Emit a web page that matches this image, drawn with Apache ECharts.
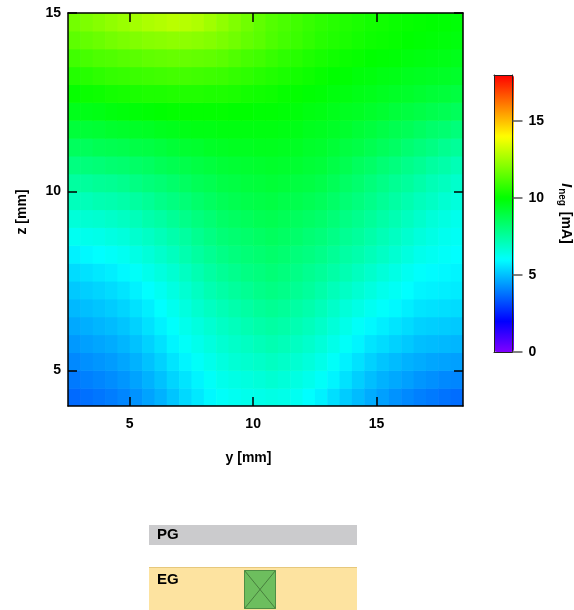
<!DOCTYPE html>
<html>
<head>
<meta charset="utf-8">
<script src="https://cdn.jsdelivr.net/npm/echarts@6/dist/echarts.min.js"></script>
<style>
  html, body { margin: 0; padding: 0; background: #fff; }
  #chart { width: 574px; height: 610px; }
</style>
</head>
<body>
<div id="chart"></div>
<script>
// cell centres of the current map (y and z in mm)
const yCenters = [2.75, 3.25, 3.75, 4.25, 4.75, 5.25, 5.75, 6.25, 6.75, 7.25, 7.75, 8.25, 8.75, 9.25, 9.75, 10.25,
  10.75, 11.25, 11.75, 12.25, 12.75, 13.25, 13.75, 14.25, 14.75, 15.25, 15.75, 16.25, 16.75, 17.25, 17.75, 18.25]
const zCenters = [4.25, 4.75, 5.25, 5.75, 6.25, 6.75, 7.25, 7.75, 8.25, 8.75, 9.25, 9.75,
  10.25, 10.75, 11.25, 11.75, 12.25, 12.75, 13.25, 13.75, 14.25, 14.75]
const cellW = 0.5
const cellH = 0.5

// I_neg [mA], one row per z centre (bottom to top), columns follow yCenters
const currentRows = [
  [3.65, 3.75, 3.85, 3.95, 4.1, 4.3, 4.55, 4.8, 5.1, 5.4, 5.65, 5.9, 6.1, 6.2, 6.3, 6.35, 6.4, 6.35, 6.2, 6.0, 5.8, 5.5, 5.2, 4.95, 4.7, 4.5, 4.3, 4.15, 4.0, 3.9, 3.8, 3.7],
  [3.9, 4.0, 4.1, 4.2, 4.35, 4.55, 4.8, 5.05, 5.35, 5.6, 5.85, 6.1, 6.3, 6.4, 6.5, 6.6, 6.7, 6.6, 6.45, 6.3, 6.1, 5.85, 5.55, 5.25, 5.0, 4.8, 4.65, 4.5, 4.35, 4.25, 4.15, 4.1],
  [4.15, 4.25, 4.35, 4.45, 4.6, 4.8, 5.05, 5.3, 5.6, 5.85, 6.1, 6.3, 6.5, 6.65, 6.75, 6.85, 6.95, 6.85, 6.7, 6.55, 6.35, 6.1, 5.8, 5.55, 5.3, 5.1, 4.95, 4.8, 4.7, 4.6, 4.55, 4.5],
  [4.4, 4.5, 4.6, 4.7, 4.85, 5.05, 5.3, 5.55, 5.85, 6.1, 6.3, 6.5, 6.7, 6.85, 6.95, 7.1, 7.2, 7.1, 6.95, 6.8, 6.6, 6.35, 6.1, 5.85, 5.6, 5.45, 5.3, 5.15, 5.0, 4.95, 4.9, 4.85],
  [4.65, 4.75, 4.85, 4.95, 5.1, 5.3, 5.55, 5.8, 6.05, 6.3, 6.5, 6.7, 6.9, 7.05, 7.2, 7.35, 7.45, 7.35, 7.2, 7.05, 6.85, 6.6, 6.35, 6.1, 5.9, 5.75, 5.6, 5.45, 5.3, 5.25, 5.2, 5.15],
  [4.9, 5.0, 5.1, 5.2, 5.35, 5.55, 5.75, 6.0, 6.25, 6.5, 6.75, 6.95, 7.15, 7.3, 7.45, 7.6, 7.7, 7.6, 7.45, 7.3, 7.1, 6.85, 6.6, 6.4, 6.2, 6.05, 5.9, 5.75, 5.6, 5.55, 5.5, 5.45],
  [5.15, 5.25, 5.35, 5.45, 5.6, 5.8, 6.0, 6.2, 6.45, 6.7, 6.95, 7.2, 7.4, 7.55, 7.7, 7.85, 7.95, 7.85, 7.7, 7.55, 7.35, 7.1, 6.9, 6.7, 6.5, 6.3, 6.15, 6.0, 5.85, 5.8, 5.75, 5.7],
  [5.45, 5.55, 5.65, 5.75, 5.9, 6.1, 6.3, 6.5, 6.7, 6.95, 7.2, 7.45, 7.65, 7.8, 7.95, 8.05, 8.15, 8.05, 7.9, 7.75, 7.6, 7.4, 7.2, 7.0, 6.8, 6.6, 6.4, 6.2, 6.05, 5.95, 5.9, 5.85],
  [5.8, 5.9, 6.0, 6.1, 6.2, 6.4, 6.6, 6.8, 7.0, 7.25, 7.5, 7.7, 7.9, 8.05, 8.15, 8.25, 8.35, 8.25, 8.1, 8.0, 7.85, 7.65, 7.45, 7.3, 7.1, 6.9, 6.7, 6.5, 6.3, 6.2, 6.1, 6.0],
  [6.2, 6.3, 6.35, 6.45, 6.55, 6.75, 6.9, 7.1, 7.3, 7.5, 7.75, 7.95, 8.15, 8.25, 8.35, 8.45, 8.55, 8.45, 8.35, 8.2, 8.1, 7.9, 7.7, 7.55, 7.35, 7.15, 6.95, 6.75, 6.55, 6.4, 6.25, 6.15],
  [6.6, 6.7, 6.75, 6.85, 6.95, 7.1, 7.3, 7.45, 7.65, 7.85, 8.05, 8.2, 8.4, 8.5, 8.6, 8.7, 8.75, 8.65, 8.55, 8.45, 8.35, 8.15, 7.95, 7.8, 7.6, 7.4, 7.2, 7.0, 6.8, 6.6, 6.45, 6.3],
  [7.05, 7.1, 7.2, 7.25, 7.35, 7.5, 7.65, 7.85, 8.0, 8.15, 8.35, 8.5, 8.65, 8.75, 8.85, 8.9, 8.95, 8.85, 8.8, 8.7, 8.6, 8.4, 8.2, 8.05, 7.85, 7.65, 7.45, 7.25, 7.05, 6.9, 6.7, 6.55],
  [7.5, 7.55, 7.65, 7.7, 7.8, 7.95, 8.1, 8.2, 8.35, 8.5, 8.65, 8.75, 8.9, 8.95, 9.05, 9.1, 9.15, 9.1, 9.0, 8.95, 8.85, 8.65, 8.45, 8.3, 8.1, 7.9, 7.7, 7.55, 7.35, 7.15, 7.0, 6.8],
  [8.0, 8.1, 8.15, 8.25, 8.3, 8.4, 8.5, 8.65, 8.75, 8.85, 8.95, 9.05, 9.15, 9.2, 9.25, 9.3, 9.35, 9.3, 9.25, 9.15, 9.1, 8.9, 8.75, 8.55, 8.4, 8.2, 8.05, 7.85, 7.7, 7.5, 7.35, 7.15],
  [8.55, 8.6, 8.7, 8.75, 8.8, 8.9, 8.95, 9.05, 9.15, 9.25, 9.3, 9.4, 9.45, 9.5, 9.5, 9.55, 9.55, 9.5, 9.45, 9.35, 9.3, 9.15, 9.0, 8.9, 8.75, 8.6, 8.45, 8.25, 8.1, 7.95, 7.75, 7.6],
  [9.1, 9.15, 9.2, 9.3, 9.35, 9.4, 9.45, 9.55, 9.6, 9.65, 9.7, 9.7, 9.75, 9.75, 9.75, 9.75, 9.75, 9.7, 9.65, 9.55, 9.5, 9.4, 9.3, 9.15, 9.05, 8.9, 8.75, 8.65, 8.5, 8.35, 8.25, 8.1],
  [9.6, 9.65, 9.7, 9.8, 9.85, 9.9, 9.95, 10.0, 10.05, 10.05, 10.05, 10.05, 10.05, 10.0, 10.0, 9.95, 9.95, 9.9, 9.85, 9.75, 9.7, 9.6, 9.5, 9.45, 9.35, 9.25, 9.1, 9.0, 8.9, 8.8, 8.7, 8.6],
  [10.1, 10.15, 10.2, 10.3, 10.35, 10.4, 10.45, 10.45, 10.5, 10.5, 10.5, 10.45, 10.45, 10.4, 10.3, 10.25, 10.2, 10.1, 10.05, 9.95, 9.9, 9.8, 9.75, 9.65, 9.6, 9.5, 9.4, 9.35, 9.25, 9.15, 9.1, 9.0],
  [10.55, 10.6, 10.7, 10.8, 10.85, 10.9, 10.95, 11.0, 11.05, 11.05, 11.0, 10.95, 10.9, 10.8, 10.7, 10.6, 10.5, 10.4, 10.3, 10.2, 10.1, 10.0, 9.95, 9.85, 9.8, 9.7, 9.65, 9.55, 9.5, 9.45, 9.4, 9.35],
  [11.0, 11.1, 11.2, 11.25, 11.35, 11.4, 11.5, 11.55, 11.6, 11.6, 11.55, 11.5, 11.4, 11.25, 11.1, 11.0, 10.85, 10.7, 10.6, 10.45, 10.35, 10.25, 10.15, 10.1, 10.0, 9.95, 9.9, 9.8, 9.75, 9.7, 9.65, 9.6],
  [11.45, 11.55, 11.65, 11.8, 11.9, 12.0, 12.1, 12.15, 12.2, 12.2, 12.15, 12.05, 11.9, 11.75, 11.55, 11.4, 11.2, 11.05, 10.9, 10.75, 10.6, 10.5, 10.4, 10.3, 10.2, 10.15, 10.1, 10.0, 9.95, 9.9, 9.85, 9.8],
  [11.8, 11.95, 12.1, 12.25, 12.4, 12.55, 12.7, 12.8, 12.9, 12.85, 12.75, 12.5, 12.25, 12.0, 11.75, 11.5, 11.3, 11.15, 11.0, 10.85, 10.7, 10.6, 10.5, 10.4, 10.3, 10.25, 10.15, 10.1, 10.05, 10.0, 9.95, 9.9]
]

const axisTicks = [5, 10, 15]
const colorbarTicks = [0, 5, 10, 15]
// rainbow, one stop per mA from 0 to 18
const rainbow = ['#8000ff', '#4000ff', '#0000ff', '#0040ff', '#0080ff', '#00bfff', '#00ffff',
  '#00ffbf', '#00ff80', '#00ff40', '#00ff00', '#40ff00', '#80ff00', '#bfff00', '#ffff00',
  '#ffbf00', '#ff8000', '#ff4000', '#ff0000']

const cells = []
currentRows.forEach((row, i) => {
  row.forEach((v, j) => {
    cells.push([yCenters[j], zCenters[i], v])
  })
})

const font = 'Liberation Sans, Arial, sans-serif'
const labelStyle = { color: '#000', fontSize: 14, fontWeight: 'bold', fontFamily: font }

function renderCell(params, api) {
  const p0 = api.coord([api.value(0) - cellW / 2, api.value(1) + cellH / 2])
  const p1 = api.coord([api.value(0) + cellW / 2, api.value(1) - cellH / 2])
  return {
    type: 'rect',
    shape: { x: p0[0], y: p0[1], width: p1[0] - p0[0] + 0.6, height: p1[1] - p0[1] + 0.6 },
    style: { fill: api.visual('color') }
  }
}

const frameLine = { show: true, onZero: false, lineStyle: { color: '#000', width: 1.5 } }
const inTick = { show: true, inside: true, length: 9, customValues: axisTicks, lineStyle: { color: '#000', width: 1.5 } }
const barLine = { show: true, onZero: false, lineStyle: { color: '#222', width: 1 } }

const chart = echarts.init(document.getElementById('chart'))
chart.setOption({
  animation: false,
  grid: [
    { left: 68, top: 13, width: 395, height: 393 },
    { left: 494, top: 75, width: 20, height: 277 }
  ],
  xAxis: [
    {
      type: 'value', gridIndex: 0, min: 2.5, max: 18.5, position: 'bottom', z: 10,
      axisLine: frameLine, axisTick: inTick, splitLine: { show: false },
      axisLabel: Object.assign({ margin: 11, customValues: axisTicks }, labelStyle),
      name: 'y [mm]', nameLocation: 'middle', nameGap: 45,
      nameTextStyle: Object.assign({ padding: [0, 34, 0, 0] }, labelStyle)
    },
    {
      type: 'value', gridIndex: 0, min: 2.5, max: 18.5, position: 'top', z: 10,
      axisLine: frameLine, axisTick: inTick, axisLabel: { show: false }, splitLine: { show: false }
    },
    {
      type: 'value', gridIndex: 1, min: 0, max: 1, position: 'bottom', z: 10,
      axisLine: barLine, axisTick: { show: false }, axisLabel: { show: false }, splitLine: { show: false }
    },
    {
      type: 'value', gridIndex: 1, min: 0, max: 1, position: 'top', z: 10,
      axisLine: barLine, axisTick: { show: false }, axisLabel: { show: false }, splitLine: { show: false }
    }
  ],
  yAxis: [
    {
      type: 'value', gridIndex: 0, min: 4, max: 15, position: 'left', z: 10,
      axisLine: frameLine, axisTick: inTick, splitLine: { show: false },
      axisLabel: Object.assign({ margin: 7, customValues: axisTicks }, labelStyle),
      name: 'z [mm]', nameLocation: 'middle', nameGap: 39, nameRotate: 90,
      nameTextStyle: Object.assign({ padding: [0, 5, 0, 0] }, labelStyle)
    },
    {
      type: 'value', gridIndex: 0, min: 4, max: 15, position: 'right', z: 10,
      axisLine: frameLine, axisTick: inTick, axisLabel: { show: false }, splitLine: { show: false }
    },
    {
      type: 'value', gridIndex: 1, min: 0, max: 18, position: 'left', z: 10,
      axisLine: barLine, axisTick: { show: false }, axisLabel: { show: false }, splitLine: { show: false }
    },
    {
      type: 'value', gridIndex: 1, min: 0, max: 18, position: 'right', z: 10,
      axisLine: barLine,
      axisTick: { show: true, inside: false, length: 10, customValues: colorbarTicks, lineStyle: { color: '#555', width: 1.5 } },
      axisLabel: Object.assign({ margin: 16, customValues: colorbarTicks }, labelStyle),
      splitLine: { show: false },
      name: '{i|I}{s|neg} [mA]', nameLocation: 'middle', nameGap: 44, nameRotate: -90,
      nameTextStyle: Object.assign({}, labelStyle, {
        rich: {
          i: { fontSize: 14, fontStyle: 'italic', fontWeight: 'bold', fontFamily: font, color: '#000' },
          s: { fontSize: 10, fontWeight: 'bold', fontFamily: font, color: '#000', padding: [9, 2, 0, 1] }
        }
      })
    }
  ],
  visualMap: {
    type: 'continuous',
    seriesIndex: 0,
    dimension: 2,
    min: 0,
    max: 18,
    calculable: false,
    hoverLink: false,
    left: 494,
    top: 75,
    padding: 0,
    itemWidth: 20,
    itemHeight: 277,
    text: null,
    showLabel: false,
    z: 1,
    inRange: { color: rainbow }
  },
  series: [{
    type: 'custom',
    xAxisIndex: 0,
    yAxisIndex: 0,
    renderItem: renderCell,
    clip: true,
    silent: true,
    data: cells
  }],
  graphic: [
    { type: 'rect', shape: { x: 149, y: 525, width: 208, height: 20 }, style: { fill: '#cbcbcd' } },
    { type: 'text', x: 157, y: 535, style: { text: 'PG', fill: '#000', font: 'bold 15px ' + font, verticalAlign: 'middle' } },
    { type: 'rect', shape: { x: 149, y: 567, width: 208, height: 43 }, style: { fill: '#fde3a0' } },
    { type: 'line', shape: { x1: 149, y1: 567.5, x2: 357, y2: 567.5 }, style: { stroke: '#e6c87c', lineWidth: 1 } },
    { type: 'text', x: 157, y: 580, style: { text: 'EG', fill: '#000', font: 'bold 15px ' + font, verticalAlign: 'middle' } },
    { type: 'rect', shape: { x: 244.5, y: 570.5, width: 31, height: 38 }, style: { fill: '#6dbe5e', stroke: '#4f8e45', lineWidth: 1 } },
    { type: 'line', shape: { x1: 244.5, y1: 570.5, x2: 275.5, y2: 608.5 }, style: { stroke: '#3e6f35', lineWidth: 0.8 } },
    { type: 'line', shape: { x1: 275.5, y1: 570.5, x2: 244.5, y2: 608.5 }, style: { stroke: '#3e6f35', lineWidth: 0.8 } }
  ]
})
</script>
</body>
</html>
